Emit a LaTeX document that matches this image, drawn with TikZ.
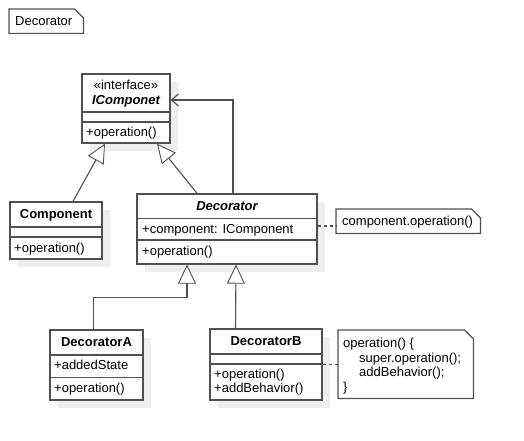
\documentclass[tikz,border=0pt]{standalone}
\usepackage{fontspec}
\setmainfont{Liberation Sans}
\usetikzlibrary{arrows.meta,shadows}
\definecolor{edge}{RGB}{80,80,80}
\definecolor{shade}{RGB}{238,238,238}
\tikzset{
  classbox/.style={draw=edge, line width=1.3pt, fill=white, inner sep=0pt,
    general shadow={fill=shade, shadow xshift=8pt, shadow yshift=-8pt}},
  divider/.style={draw=edge, line width=1.3pt},
  lbl/.style={inner sep=0pt, text height=9.4pt, text depth=2.8pt},
  notebox/.style={anchor=north west, inner sep=0pt, inner xsep=5pt, align=left},
  noteline/.style={draw=edge, line width=1.2pt, fill=white, line join=miter},
  gen/.style={draw=edge, line width=1.1pt,
    -{Triangle[length=19pt, width=18pt, fill=white, line width=0.9pt]}},
  assoc/.style={draw=edge, line width=1.1pt, -{Straight Barb[length=7pt, width=12pt]}},
  anchorline/.style={draw=edge, line width=1.1pt, dash pattern=on 3pt off 3pt},
}
% outline of a note with a folded top right corner
\newcommand\noteoutline[1]{%
  \draw[noteline] (#1.north west) -- ([xshift=-9pt]#1.north east)
    -- ([yshift=-9pt]#1.north east) -- (#1.south east) -- (#1.south west) -- cycle;}
\begin{document}
\begin{tikzpicture}[x=1pt, y=-1pt, font=\fontsize{13}{14.5}\selectfont]
\useasboundingbox[fill=white] (0,0) rectangle (524,441);

% ---- note: diagram title
\node[notebox, text width=64pt, minimum height=24pt] (titlenote) at (9,9) {};
\noteoutline{titlenote}
\node[lbl, anchor=west] (titletext) at (15,22) {Decorator};

% ---- interface IComponet
\node[classbox, minimum width=88pt, minimum height=69pt] (icomp) at (126,108.5) {};
\draw[divider] (icomp.west |- 0,112) -- (icomp.east |- 0,112);
\draw[divider] (icomp.west |- 0,122) -- (icomp.east |- 0,122);
\node[lbl] (icompster) at (126,86) {«interface»};
\node[lbl] (icompname) at (126,101) {\bfseries\itshape IComponet};
\node[lbl, anchor=west] (icompop) at (86,133) {+operation()};

% ---- Component
\node[classbox, minimum width=92pt, minimum height=57pt] (comp) at (56,230.5) {};
\draw[divider] (comp.west |- 0,227) -- (comp.east |- 0,227);
\draw[divider] (comp.west |- 0,237) -- (comp.east |- 0,237);
\node[lbl] (compname) at (56,215.5) {\bfseries Component};
\node[lbl, anchor=west] (compop) at (14,249) {+operation()};

% ---- Decorator
\node[classbox, minimum width=180pt, minimum height=70pt] (deco) at (227,229) {};
\draw[divider] (deco.west |- 0,218.5) -- (deco.east |- 0,218.5);
\draw[divider] (deco.west |- 0,240) -- (deco.east |- 0,240);
\node[lbl] (deconame) at (227,207.5) {\bfseries\itshape Decorator};
\node[lbl, anchor=west] (decoattr) at (142,230) {+component: IComponent};
\node[lbl, anchor=west] (decoop) at (142,252.5) {+operation()};

% ---- DecoratorA
\node[classbox, minimum width=93pt, minimum height=70pt] (decA) at (96.5,365) {};
\draw[divider] (decA.west |- 0,355) -- (decA.east |- 0,355);
\draw[divider] (decA.west |- 0,377.5) -- (decA.east |- 0,377.5);
\node[lbl] (decAname) at (96.5,343) {\bfseries DecoratorA};
\node[lbl, anchor=west] (decAattr) at (54,366.5) {+addedState};
\node[lbl, anchor=west] (decAop) at (54,389) {+operation()};

% ---- DecoratorB
\node[classbox, minimum width=112pt, minimum height=71pt] (decB) at (266,364.5) {};
\draw[divider] (decB.west |- 0,354) -- (decB.east |- 0,354);
\draw[divider] (decB.west |- 0,364) -- (decB.east |- 0,364);
\node[lbl] (decBname) at (266,342) {\bfseries DecoratorB};
\node[lbl, anchor=west] (decBop) at (214,375.5) {+operation()};
\node[lbl, anchor=west] (decBbeh) at (214,389.5) {+addBehavior()};

% ---- notes
\node[notebox, text width=134pt, minimum height=24pt] (opnote) at (336,209) {};
\noteoutline{opnote}
\node[lbl, anchor=west] (opnotetext) at (342,222) {component.operation()};

\node[notebox, text width=125pt, minimum height=68pt] (behnote) at (338,330) {};
\noteoutline{behnote}
\node[anchor=north west, inner sep=0pt, align=left] (behnotetext) at (343,338)
  {operation() \{\\\hspace*{16pt}super.operation();\\\hspace*{16pt}addBehavior();\\\}};

% ---- generalizations
\draw[gen] ([xshift=17pt]comp.north) -- ([xshift=-21pt]icomp.south);
\draw[gen] ([xshift=-30pt]deco.north) -- ([xshift=31pt]icomp.south);
\draw[gen] ([xshift=-3pt]decA.north) -- ++(0,-32) -| ([xshift=-40pt]deco.south);
\draw[gen] ([xshift=-30.5pt]decB.north) -- ([xshift=9pt]deco.south);

% ---- association back to the component
\draw[assoc] ([xshift=6pt]deco.north) |- ([yshift=8.5pt]icomp.east);

% ---- note anchors
\draw[anchorline] ([yshift=3pt]deco.east) -- ([yshift=3pt]deco.east -| opnote.west);
\draw[anchorline] (decB.east) -- (decB.east -| behnote.west);
\end{tikzpicture}
\end{document}
